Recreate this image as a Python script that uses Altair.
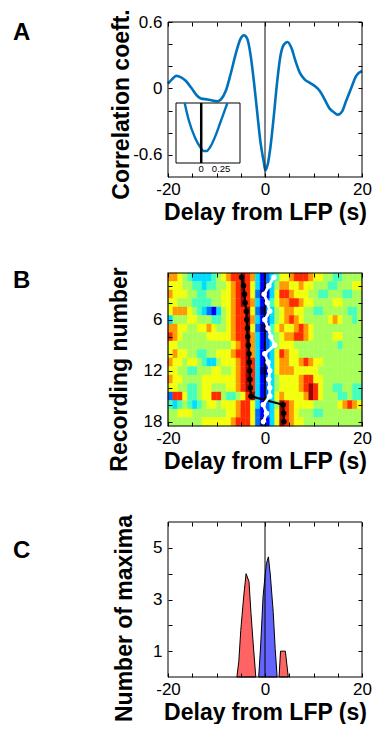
import altair as alt
import pandas as pd

FONT = "Liberation Sans"

# ---------------- Panel A : cross-correlation ----------------
a_delay = [-20, -19.2, -18.3, -17.3, -16.3, -15.2, -14.2, -13.2, -11.8, -10.8,
           -9.8, -9.1, -8.1, -7.1, -6.05, -5.03, -4.35, -3.67, -3.0, -2.3,
           -1.63, -0.95, -0.27, 0.07, 0.54, 1.09, 1.77, 2.45, 3.13, 3.81,
           4.63, 5.5, 6.2, 7.2, 8.2, 9.25, 10.3, 11.3, 12.3, 13.3,
           14.35, 15.0, 15.9, 16.7, 17.8, 18.8, 20]
a_corr = [0.043, 0.082, 0.113, 0.10, 0.067, 0.006, -0.055, -0.091, -0.10, -0.11,
          -0.116, -0.10, -0.024, 0.128, 0.31, 0.45, 0.48, 0.45, 0.31, 0.067,
          -0.207, -0.48, -0.66, -0.74, -0.69, -0.54, -0.27, 0.037, 0.28, 0.39,
          0.42, 0.36, 0.26, 0.14, 0.08, 0.05, 0.02, -0.024, -0.10, -0.18,
          -0.22, -0.237, -0.207, -0.116, 0.006, 0.113, 0.158]
a_y_domain = [-0.8, 0.6]
a_y_ticks = [-0.6, -0.4, -0.2, 0, 0.2, 0.4, 0.6]

inset_delay = [-0.208, -0.158, -0.075, -0.013, 0.03, 0.07, 0.113, 0.175, 0.238, 0.30, 0.329]
inset_corr = [-0.685, -0.706, -0.729, -0.740, -0.745, -0.745, -0.740, -0.727, -0.710, -0.693, -0.685]
inset_x_domain = [-0.317, 0.4875]
inset_y_domain = [-0.76, -0.685]
inset_tick_values = [0, 0.25]
inset_tick_labels = ["0", "0.25"]

# ---------------- Panel B : heat map (levels of a jet colormap) ----------------
b_levels = [
    "7765433334" "5678898731" "2346678887" "6655445555",
    "6665544344" "5567898631" "2357766766" "5554455566",
    "7666554455" "5667898620" "1368876665" "5445554455",
    "6655544445" "5667898731" "2467788766" "5555665555",
    "6777654321" "3567889620" "2356776655" "4455555445",
    "3555665554" "4567889731" "2356787655" "5556765545",
    "7766556676" "5567889620" "1467667876" "5555555555",
    "8765555566" "6667889731" "2456778876" "5555665555",
    "6655555555" "5556789731" "2356665555" "5555545555",
    "6766554455" "6667889731" "2368766555" "5555555555",
    "7665665433" "5666789831" "2367766787" "6655555555",
    "6655445556" "6556789830" "1367776666" "6555555555",
    "7665555666" "6666789831" "2356666788" "6655555555",
    "6655445665" "5566789831" "2356666789" "8655445544",
    "2886445668" "8544568931" "2367666679" "8655544544",
    "4345434566" "5666788631" "2359876666" "5555567876",
    "5566655555" "5566788621" "2369876555" "4455555555",
    "5555555666" "6667888620" "1369876655" "5555555555",
]
jet_levels = [str(i) for i in range(10)]
jet_colors = ["#00008F", "#0000FF", "#0070FF", "#00DDFF", "#45FFBA",
              "#A8FF57", "#F2FF0D", "#FF9A00", "#FF2A00", "#A00000"]
b_rows = list(range(1, 19))
b_black_delay = [-4.85, -4.43, -4.23, -4.1, -3.83, -3.76, -3.63, -3.56, -3.43,
                 -3.3, -3.22, -3.16, -3.1, -3.02, -2.89, 3.75, 3.85, 3.9]
b_white_delay = [1.86, 0.78, -0.17, 0.5, 0.98, -0.04, 0.64, 1.2, 2.0,
                 -0.04, 0.64, 0.98, 0.78, 0.98, 0.98, -0.36, 0.3, -0.3]
b_y_ticks = [2, 4, 6, 8, 10, 12, 14, 16, 18]

# ---------------- Panel C : histogram of maxima ----------------
c_red1_delay = [-5.8, -5.4, -5.0, -4.4, -3.9, -3.3, -2.9, -2.4, -1.9]
c_red1_count = [0, 0.6, 1.8, 3.1, 4.0, 3.7, 2.5, 1.2, 0]
c_blue_delay = [-1.3, -0.9, -0.4, 0.0, 0.3, 0.7, 1.1, 1.7, 2.1, 2.5]
c_blue_count = [0, 1.2, 3.1, 3.9, 4.4, 4.65, 3.95, 2.5, 1.1, 0]
c_red2_delay = [2.9, 3.2, 4.2, 4.8]
c_red2_count = [0, 1, 1, 0]
c_y_ticks = [1, 2, 3, 4, 5]

X_TICKS = list(range(-20, 21, 5))
X_DOMAIN = [-20, 20]
W = 194


def ax_bottom(title_y, label_pad):
    return alt.Axis(orient="bottom", values=X_TICKS,
                    labelExpr="datum.value % 20 == 0 ? toString(datum.value) : ''",
                    labelFlush=False, labelOverlap=False, labelPadding=label_pad,
                    offset=-4, tickSize=4, domain=False, grid=False, zindex=1,
                    title="Delay from LFP (s)", titleY=title_y,
                    titleFontSize=23, titleFontWeight="bold")


def ax_top():
    return alt.Axis(orient="top", values=X_TICKS, labels=False, offset=-4,
                    tickSize=4, domain=False, grid=False, zindex=1, title=None)


def ax_left(values, expr, title, title_x, title_y):
    return alt.Axis(orient="left", values=values, labelExpr=expr, labelOverlap=False,
                    labelPadding=6, offset=-4, tickSize=4, domain=False, grid=False,
                    zindex=1, title=title, titleX=title_x, titleY=title_y,
                    titleFontSize=23, titleFontWeight="bold")


def ax_right(values):
    return alt.Axis(orient="right", values=values, labels=False, offset=-4,
                    tickSize=4, domain=False, grid=False, zindex=1, title=None)


def letter(t, dy):
    return alt.Chart(pd.DataFrame({"t": [t]})).mark_text(
        align="left", baseline="top", fontSize=24, fontWeight="bold",
        font=FONT, color="black").encode(text="t:N", x=alt.value(-155), y=alt.value(dy))


# ---------- Panel A ----------
xsA = alt.Scale(domain=X_DOMAIN, nice=False, zero=False)
ysA = alt.Scale(domain=a_y_domain, nice=False, zero=False)
dfA = pd.DataFrame({"delay": a_delay, "corr": a_corr})

curveA = alt.Chart(dfA).mark_line(color="#0072BD", strokeWidth=2.6, interpolate="monotone").encode(
    x=alt.X("delay:Q", scale=xsA, axis=ax_bottom(28, 4)),
    y=alt.Y("corr:Q", scale=ysA,
            axis=ax_left(a_y_ticks,
                         "abs(datum.value) < 0.001 || abs(abs(datum.value) - 0.6) < 0.001 ? toString(datum.value) : ''",
                         "Correlation coeft.", -39, 82)))
zeroA = alt.Chart(pd.DataFrame({"x": [0]})).mark_rule(color="#333333", strokeWidth=1.2).encode(
    x=alt.X("x:Q", scale=xsA, axis=None))
frameA = alt.Chart(pd.DataFrame({"x0": [X_DOMAIN[0]], "x1": [X_DOMAIN[1]],
                                 "y0": [a_y_domain[0]], "y1": [a_y_domain[1]]})).mark_rect(
    filled=False, color="black", strokeWidth=1).encode(
    x=alt.X("x0:Q", scale=xsA, axis=ax_top()), x2="x1:Q",
    y=alt.Y("y0:Q", scale=ysA, axis=ax_right(a_y_ticks)), y2="y1:Q")
mainA = alt.layer(curveA, zeroA, frameA, letter("A", -1)).resolve_axis(x="independent", y="independent")

isx = alt.Scale(domain=inset_x_domain, range=[8, 72], nice=False, zero=False)
isy = alt.Scale(domain=inset_y_domain, range=[141, 81], nice=False, zero=False)
box = alt.Chart(pd.DataFrame({"x0": [inset_x_domain[0]], "x1": [inset_x_domain[1]],
                              "y0": [inset_y_domain[0]], "y1": [inset_y_domain[1]]})).mark_rect(
    fill="white", stroke="black", strokeWidth=1).encode(
    x=alt.X("x0:Q", scale=isx, axis=None), x2="x1:Q",
    y=alt.Y("y0:Q", scale=isy, axis=None), y2="y1:Q")
inset_curve = alt.Chart(pd.DataFrame({"d": inset_delay, "c": inset_corr})).mark_line(
    color="#0072BD", strokeWidth=2.4, interpolate="monotone").encode(
    x=alt.X("d:Q", scale=isx, axis=None), y=alt.Y("c:Q", scale=isy, axis=None))
inset_rule = alt.Chart(pd.DataFrame({"x": [0], "y0": [inset_y_domain[0]], "y1": [inset_y_domain[1]]})).mark_rule(
    color="black", strokeWidth=2.5).encode(
    x=alt.X("x:Q", scale=isx, axis=None), y=alt.Y("y0:Q", scale=isy, axis=None), y2="y1:Q")
inset_text = alt.Chart(pd.DataFrame({"x": inset_tick_values, "t": inset_tick_labels,
                                     "y": [inset_y_domain[0]] * 2})).mark_text(
    baseline="top", dy=1, fontSize=9.5, font=FONT, color="black").encode(
    x=alt.X("x:Q", scale=isx, axis=None), y=alt.Y("y:Q", scale=isy, axis=None), text="t:N")
inset = alt.layer(box, inset_curve, inset_rule, inset_text)

panelA = alt.layer(mainA, inset).resolve_scale(x="independent", y="independent").properties(width=W, height=155)

# ---------- Panel B ----------
xsB = alt.Scale(domain=X_DOMAIN, nice=False, zero=False)
ysB = alt.Scale(domain=[0.5, 18.5], nice=False, zero=False, reverse=True)
cells = []
for r, s in zip(b_rows, b_levels):
    for k, ch in enumerate(s):
        cells.append({"x0": X_DOMAIN[0] + k, "x1": X_DOMAIN[0] + k + 1,
                      "y0": r - 0.5, "y1": r + 0.5, "lvl": ch})
dfB = pd.DataFrame(cells)
jet = alt.Scale(domain=jet_levels, range=jet_colors)
heat = alt.Chart(dfB).mark_rect(strokeWidth=0.4).encode(
    x=alt.X("x0:Q", scale=xsB, axis=ax_bottom(28, 4)), x2="x1:Q",
    y=alt.Y("y0:Q", scale=ysB,
            axis=ax_left(b_y_ticks, "datum.value % 6 == 0 ? toString(datum.value) : ''",
                         "Recording number", -41, 96)),
    y2="y1:Q",
    color=alt.Color("lvl:N", scale=jet, legend=None),
    stroke=alt.Stroke("lvl:N", scale=jet, legend=None))
zeroB = alt.Chart(pd.DataFrame({"x": [0]})).mark_rule(color="black", strokeWidth=1.6).encode(
    x=alt.X("x:Q", scale=xsB, axis=None))
dfLines = pd.DataFrame({"row": b_rows, "black": b_black_delay, "white": b_white_delay})
blackB = alt.Chart(dfLines).mark_line(color="black", strokeWidth=2.2,
                                      point=alt.OverlayMarkDef(filled=True, color="black", size=30)).encode(
    x=alt.X("black:Q", scale=xsB, axis=None), y=alt.Y("row:Q", scale=ysB, axis=None), order="row:Q")
whiteB = alt.Chart(dfLines).mark_line(color="white", strokeWidth=2.8,
                                      point=alt.OverlayMarkDef(filled=True, color="white", size=30)).encode(
    x=alt.X("white:Q", scale=xsB, axis=None), y=alt.Y("row:Q", scale=ysB, axis=None), order="row:Q")
frameB = alt.Chart(pd.DataFrame({"x0": [X_DOMAIN[0]], "x1": [X_DOMAIN[1]],
                                 "y0": [0.5], "y1": [18.5]})).mark_rect(
    filled=False, color="black", strokeWidth=1.2).encode(
    x=alt.X("x0:Q", scale=xsB, axis=ax_top()), x2="x1:Q",
    y=alt.Y("y0:Q", scale=ysB, axis=ax_right(b_y_ticks)), y2="y1:Q")
panelB = alt.layer(heat, zeroB, blackB, whiteB, frameB, letter("B", -4)).resolve_axis(
    x="independent", y="independent").properties(width=W, height=153)

# ---------- Panel C ----------
xsC = alt.Scale(domain=X_DOMAIN, nice=False, zero=False)
ysC = alt.Scale(domain=[0, 6], nice=False, zero=False)
dfC = pd.concat([
    pd.DataFrame({"delay": c_red1_delay, "count": c_red1_count, "grp": "r1"}),
    pd.DataFrame({"delay": c_blue_delay, "count": c_blue_count, "grp": "b"}),
    pd.DataFrame({"delay": c_red2_delay, "count": c_red2_count, "grp": "r2"}),
])
areas = alt.Chart(dfC).mark_area(stroke="black", strokeWidth=1, opacity=1).encode(
    x=alt.X("delay:Q", scale=xsC, axis=ax_bottom(28, 4)),
    y=alt.Y("count:Q", scale=ysC, stack=None,
            axis=ax_left(c_y_ticks, "datum.value % 2 == 1 ? toString(datum.value) : ''",
                         "Number of maxima", -36, 96)),
    color=alt.Color("grp:N", scale=alt.Scale(domain=["r1", "b", "r2"],
                                             range=["#FF6464", "#6464FF", "#FF6464"]), legend=None))
zeroC = alt.Chart(pd.DataFrame({"x": [0]})).mark_rule(color="black", strokeWidth=1).encode(
    x=alt.X("x:Q", scale=xsC, axis=None))
frameC = alt.Chart(pd.DataFrame({"x0": [X_DOMAIN[0]], "x1": [X_DOMAIN[1]],
                                 "y0": [0], "y1": [6]})).mark_rect(
    filled=False, color="black", strokeWidth=1).encode(
    x=alt.X("x0:Q", scale=xsC, axis=ax_top()), x2="x1:Q",
    y=alt.Y("y0:Q", scale=ysC, axis=ax_right(c_y_ticks)), y2="y1:Q")
panelC = alt.layer(areas, zeroC, frameC, letter("C", 17)).resolve_axis(
    x="independent", y="independent").properties(width=W, height=155)

chart = alt.vconcat(panelA, panelB, panelC, spacing=96, bounds="flush").resolve_scale(
    color="independent", stroke="independent"
).properties(
    padding={"left": 5, "top": 0, "right": 0, "bottom": 0}
).configure_view(stroke=None).configure_axis(
    labelFont=FONT, titleFont=FONT, labelFontSize=17, labelColor="black",
    titleColor="black", tickColor="black", tickWidth=1)

chart.save("out.html", embed_options={"renderer": "svg", "actions": False})
